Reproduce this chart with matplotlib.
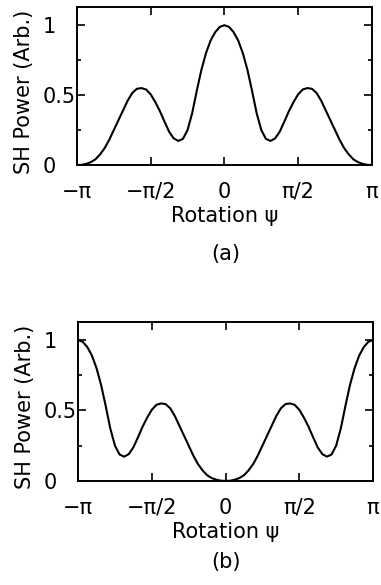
import numpy as np
import matplotlib.pyplot as plt
from matplotlib.ticker import FixedLocator

plt.rcParams['font.family'] = ['DejaVu Sans']

# Sample angles, every pi/32 from -pi to pi
psi = np.linspace(-np.pi, np.pi, 65)

# SH power
power_a = [0.000, 0.001, 0.008, 0.020, 0.040, 0.075, 0.120, 0.180, 0.250, 0.320, 0.390,
           0.460, 0.515, 0.545, 0.550, 0.540, 0.505, 0.450, 0.385, 0.310, 0.238, 0.190,
           0.172, 0.187, 0.250, 0.370, 0.530, 0.680, 0.800, 0.890, 0.950, 0.988, 1.000,
           0.988, 0.950, 0.890, 0.800, 0.680, 0.530, 0.370, 0.250, 0.187, 0.172, 0.190,
           0.238, 0.310, 0.385, 0.450, 0.505, 0.540, 0.550, 0.545, 0.515, 0.460, 0.390,
           0.320, 0.250, 0.180, 0.120, 0.075, 0.040, 0.020, 0.008, 0.001, 0.000]

# SH power
power_b = [1.000, 0.988, 0.950, 0.890, 0.800, 0.680, 0.530, 0.370, 0.250, 0.187, 0.172,
           0.190, 0.238, 0.310, 0.385, 0.450, 0.505, 0.540, 0.550, 0.545, 0.515, 0.460,
           0.390, 0.320, 0.250, 0.180, 0.120, 0.075, 0.040, 0.020, 0.008, 0.001, 0.000,
           0.001, 0.008, 0.020, 0.040, 0.075, 0.120, 0.180, 0.250, 0.320, 0.390, 0.460,
           0.515, 0.545, 0.550, 0.540, 0.505, 0.450, 0.385, 0.310, 0.238, 0.190, 0.172,
           0.187, 0.250, 0.370, 0.530, 0.680, 0.800, 0.890, 0.950, 0.988, 1.000]

xtick_pos = [-np.pi, -np.pi / 2, 0, np.pi / 2, np.pi]
xtick_labels = ['\u2212\u03c0', '\u2212\u03c0/2', '0', '\u03c0/2', '\u03c0']
ytick_pos = [0, 0.5, 1]
ytick_labels = ['0', '0.5', '1']

fs = 15

fig = plt.figure(figsize=(3.81, 5.85), dpi=100)
ax_a = fig.add_axes([0.202, 0.718, 0.774, 0.270])
ax_b = fig.add_axes([0.205, 0.178, 0.774, 0.272])

for ax, power, tag, ty in [(ax_a, power_a, '(a)', 0.566), (ax_b, power_b, '(b)', 0.039)]:
    ax.plot(psi, power, color='black', lw=1.5)
    ax.set_xlim(-np.pi, np.pi)
    ax.set_ylim(0, 1.13)
    ax.set_xticks(xtick_pos)
    ax.set_xticklabels(xtick_labels, fontsize=fs)
    ax.set_yticks(ytick_pos)
    ax.set_yticklabels(ytick_labels, fontsize=fs)
    ax.yaxis.set_minor_locator(FixedLocator([0.25, 0.75]))
    for lbl in ax.get_yticklabels():
        lbl.set_horizontalalignment('left')
    ax.tick_params(which='both', direction='in', top=True, right=True, width=1.2)
    ax.tick_params(which='major', length=6)
    ax.tick_params(which='minor', length=3)
    ax.tick_params(axis='x', pad=12)
    ax.tick_params(axis='y', pad=24.5)
    for s in ax.spines.values():
        s.set_linewidth(1.4)
    ax.set_xlabel('Rotation \u03c8', fontsize=fs, labelpad=3)
    ax.set_ylabel('SH Power (Arb.)', fontsize=fs)
    ax.yaxis.set_label_coords(-0.145, 0.465)
    fig.text(0.593, ty, tag, fontsize=fs, ha='center', va='center')

fig.savefig('out.png', dpi=100)
